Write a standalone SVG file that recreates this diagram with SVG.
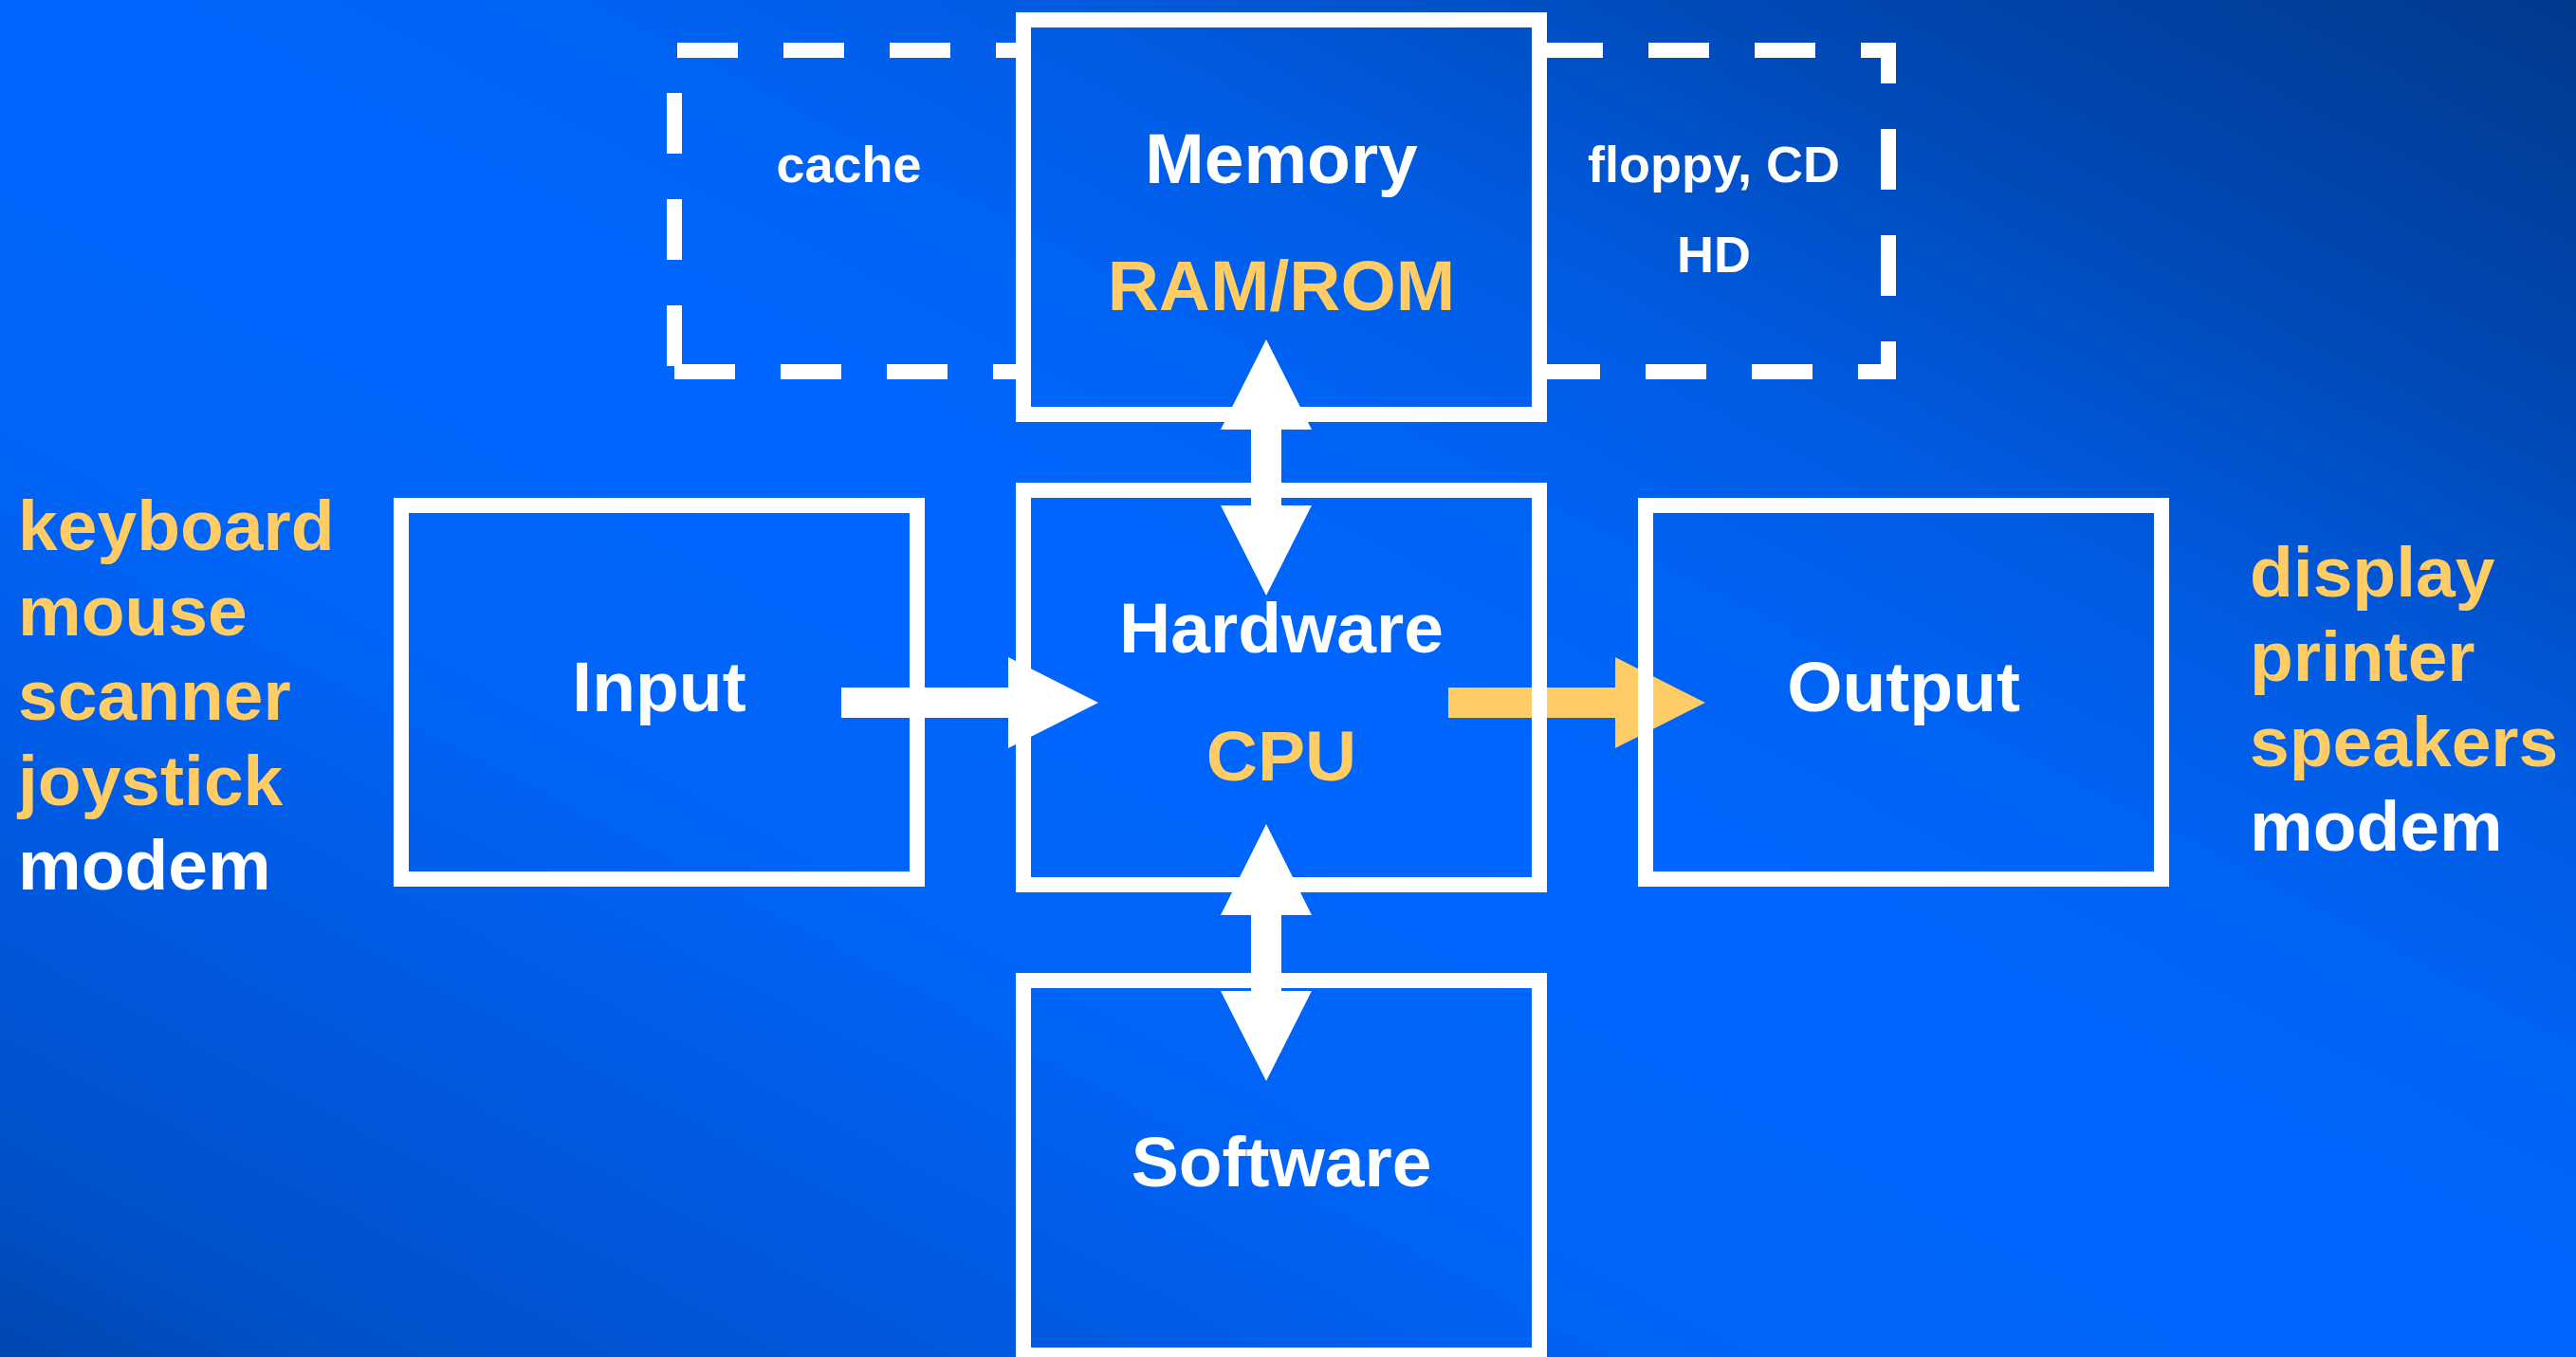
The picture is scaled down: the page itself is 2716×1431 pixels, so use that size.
<svg xmlns="http://www.w3.org/2000/svg" width="2716" height="1431" viewBox="0 0 2716 1431">
  <defs>
    <!-- diagonal backdrop: bright band from top-left to bottom-right, darker corners -->
    <linearGradient id="bg" x1="1" y1="0" x2="0" y2="1">
      <stop offset="0" stop-color="#003A8E"/>
      <stop offset="0.15" stop-color="#0047B2"/>
      <stop offset="0.3" stop-color="#005CE2"/>
      <stop offset="0.4" stop-color="#0063F6"/>
      <stop offset="0.5" stop-color="#0066FF"/>
      <stop offset="0.66" stop-color="#0064F8"/>
      <stop offset="0.83" stop-color="#0057DA"/>
      <stop offset="0.93" stop-color="#0051CA"/>
      <stop offset="1" stop-color="#0046B0"/>
    </linearGradient>
    <style>
      .box { fill: none; stroke: #FFFFFF; stroke-width: 16; }
      .dash { fill: none; stroke: #FFFFFF; stroke-width: 16; stroke-dasharray: 64 48; }
      .t { font-family: "Liberation Sans", Arial, sans-serif; font-weight: bold; }
      .big { font-size: 75px; }
      .small { font-size: 54px; }
      .w { fill: #FFFFFF; }
      .o { fill: #FFCC66; }
      .mid { text-anchor: middle; }
    </style>
  </defs>

  <rect x="0" y="0" width="2716" height="1431" fill="url(#bg)"/>

  <!-- secondary storage frame around the memory box -->
  <g id="storage">
    <line class="dash" x1="714" y1="53" x2="1079" y2="53"/>
    <line class="dash" x1="711" y1="98" x2="711" y2="386"/>
    <line class="dash" x1="711" y1="392" x2="1079" y2="392"/>
    <line class="dash" x1="1626" y1="53" x2="1998" y2="53"/>
    <line class="dash" x1="1991" y1="45" x2="1991" y2="400" stroke-dashoffset="21"/>
    <line class="dash" x1="1623" y1="392" x2="1998" y2="392"/>
    <text class="t small w mid" x="895" y="192">cache</text>
    <text class="t small w mid" x="1807" y="192">floppy, CD</text>
    <text class="t small w mid" x="1807" y="287">HD</text>
  </g>

  <!-- arrows -->
  <g id="connectors">
    <polygon fill="#FFFFFF" points="887,725 1063,725 1063,693 1158,741 1063,789 1063,757 887,757"/>
    <polygon fill="#FFCC66" points="1527,725 1703,725 1703,693 1798,741 1703,789 1703,757 1527,757"/>
    <polygon fill="#FFFFFF" points="1335,358 1383,453 1351,453 1351,533 1383,533 1335,628 1287,533 1319,533 1319,453 1287,453"/>
    <polygon fill="#FFFFFF" points="1335,869 1383,965 1351,965 1351,1045 1383,1045 1335,1140 1287,1045 1319,1045 1319,965 1287,965"/>
  </g>

  <g id="memory">
    <rect class="box" x="1079" y="21" width="544" height="416"/>
    <text class="t big w mid" x="1351" y="193">Memory</text>
    <text class="t big o mid" x="1351" y="327">RAM/ROM</text>
  </g>

  <g id="input">
    <rect class="box" x="423" y="533" width="544" height="394"/>
    <text class="t big w mid" x="695" y="750">Input</text>
  </g>

  <g id="hardware">
    <rect class="box" x="1079" y="517" width="544" height="416"/>
    <text class="t big w mid" x="1351" y="688">Hardware</text>
    <text class="t big o mid" x="1351" y="823">CPU</text>
  </g>

  <g id="output">
    <rect class="box" x="1735" y="533" width="544" height="394"/>
    <text class="t big w mid" x="2007" y="750">Output</text>
  </g>

  <g id="software">
    <rect class="box" x="1079" y="1034" width="544" height="395"/>
    <text class="t big w mid" x="1351" y="1251">Software</text>
  </g>

  <g id="input-devices">
    <text class="t big o" x="19" y="580">keyboard</text>
    <text class="t big o" x="19" y="670">mouse</text>
    <text class="t big o" x="19" y="759">scanner</text>
    <text class="t big o" x="19" y="849">joystick</text>
    <text class="t big w" x="19" y="938">modem</text>
  </g>

  <g id="output-devices">
    <text class="t big o" x="2372" y="629">display</text>
    <text class="t big o" x="2372" y="718">printer</text>
    <text class="t big o" x="2372" y="808">speakers</text>
    <text class="t big w" x="2372" y="897">modem</text>
  </g>
</svg>
